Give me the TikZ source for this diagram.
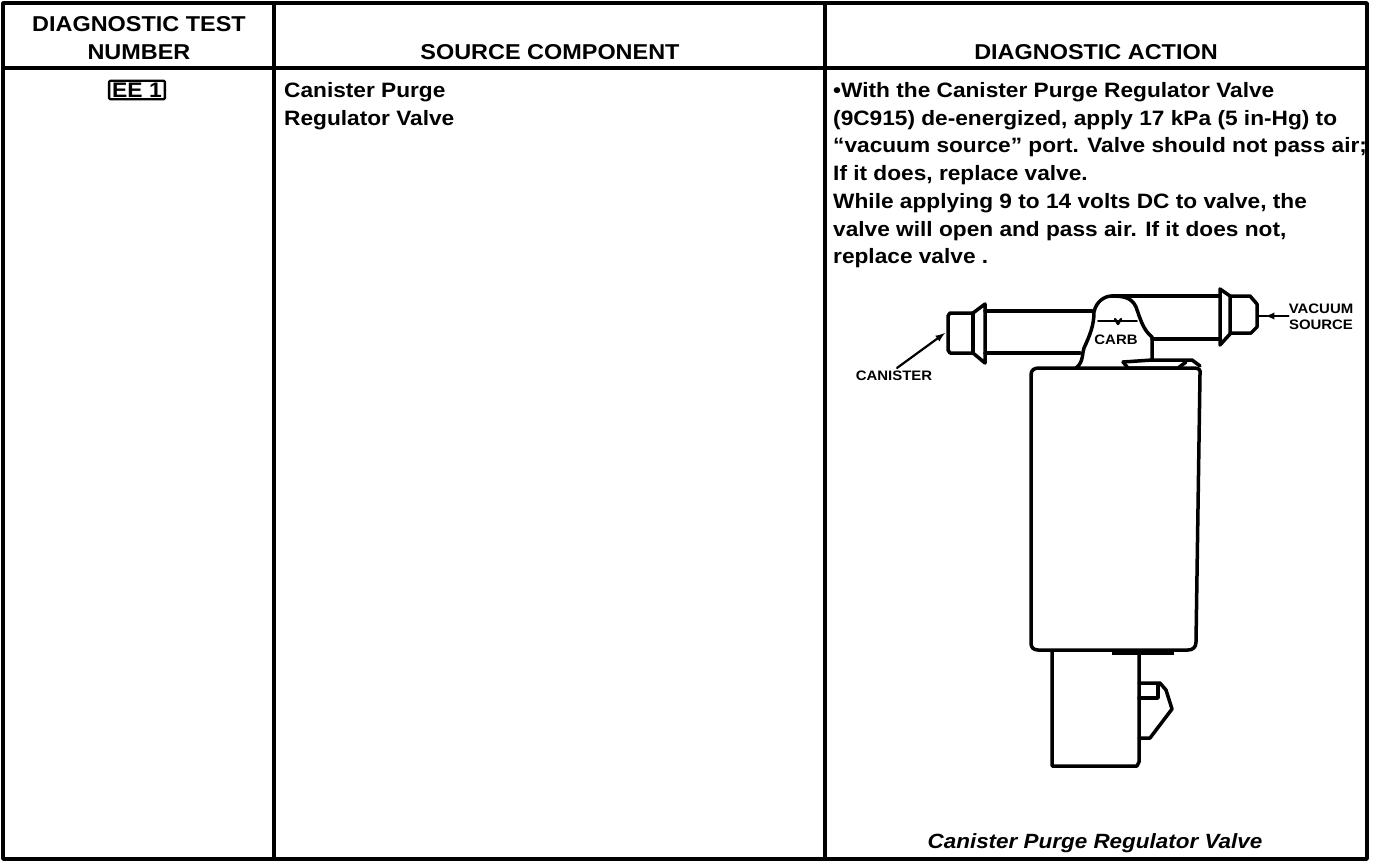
\documentclass[tikz,border=0pt]{standalone}
\usepackage{fontspec}
\setmainfont[FakeStretch=1.09]{Liberation Sans}
\usetikzlibrary{arrows,positioning}

\begin{document}
\begin{tikzpicture}[x=1pt,y=-1pt,line join=round,line cap=round]
  \tikzstyle{rule}=[line width=3.4pt,line cap=butt]
  \tikzstyle{outline}=[line width=3.5pt]
  \tikzstyle{pointer}=[line width=2.2pt,-latex]
  \tikzstyle{headcell}=[inner sep=0pt,align=center,font=\bfseries\fontsize{21.5}{28.5}\selectfont]
  \tikzstyle{bodytext}=[inner sep=0pt,align=left,anchor=north west,font=\bfseries\fontsize{20.8}{27.75}\selectfont]
  \tikzstyle{smalltag}=[inner sep=0pt,align=center,font=\bfseries\fontsize{13.7}{16}\selectfont]

  \useasboundingbox (0,0) rectangle (1376,862);

  % table
  \draw[rule] (3,3) rectangle (1367,859);
  \draw[rule] (274,3) -- (274,859);
  \draw[rule] (825,3) -- (825,859);
  \draw[rule] (3,68) -- (1367,68);

  \node[headcell] (testhead) at (139,38) {DIAGNOSTIC TEST\\NUMBER};
  \node[headcell] (sourcehead) at (550,52) {SOURCE COMPONENT};
  \node[headcell] (actionhead) at (1096,52) {DIAGNOSTIC ACTION};

  \node[draw,line width=2.4pt,rounded corners=1pt,inner xsep=3pt,inner ysep=2pt,
        font=\bfseries\fontsize{21}{21}\selectfont] (testnum) at (137,90) {EE 1};
  \node[bodytext] (source) at (284,82) {Canister Purge\\Regulator Valve};
  \node[bodytext] (action) at (833,82) {•With the Canister Purge Regulator Valve\\
    (9C915) de-energized, apply 17 kPa (5 in-Hg) to\\
    ``vacuum source'' port. Valve should not pass air;\\
    If it does, replace valve.\\
    While applying 9 to 14 volts DC to valve, the\\
    valve will open and pass air. If it does not,\\
    replace valve .};

  % left fitting and tube
  \draw[outline] (973,313) -- (950,313) -- (948,316) -- (948,350) -- (950,353) -- (973,353);
  \draw[outline] (973,313) -- (973,353);
  \draw[outline] (973,313) -- (985,304) -- (985,363) -- (973,353);
  \draw[outline] (985,311) -- (1092,311);
  \draw[outline] (985,353) -- (1080,353);

  % housing
  \draw[outline] (1076,368) .. controls (1084,362) and (1082,352) .. (1084,348)
    .. controls (1090,335) and (1094,325) .. (1094,312)
    .. controls (1096,302) and (1104,296) .. (1112,296)
    .. controls (1124,296) and (1132,298) .. (1136,307)
    .. controls (1140,318) and (1143,330) .. (1152,337) -- (1152,360);

  % right tube and fitting
  \draw[outline] (1112,296) -- (1220,296);
  \draw[outline] (1152,339) -- (1220,339);
  \draw[outline] (1220,289) -- (1230,296) -- (1230,334) -- (1220,345) -- cycle;
  \draw[outline] (1230,296) -- (1250,296) -- (1257,304) -- (1257,327) -- (1251,333) -- (1230,333);

  % flow mark
  \draw[line width=1.8pt] (1098,321) -- (1137,321);
  \draw[line width=2.4pt] (1115,319) -- (1118,324) -- (1121,319);
  \node[smalltag] (carb) at (1116,340) {CARB};

  % body
  \draw[outline] (1123,362) -- (1152,360) -- (1192,360) -- (1200,366);
  \draw[outline] (1123,362) -- (1128,368) -- (1178,368) -- (1186,362);
  \draw[outline] (1039,368) -- (1194,368) .. controls (1199,368) and (1201,370) .. (1200,374)
    -- (1196,642) .. controls (1196,647) and (1193,650) .. (1188,650)
    -- (1038,650) .. controls (1033,650) and (1031,647) .. (1031,643)
    -- (1031,375) .. controls (1031,370) and (1034,368) .. (1039,368);
  \draw[line width=5pt,line cap=butt] (1112,652) -- (1174,652);

  % connector
  \draw[outline] (1052,651) -- (1052,766) -- (1137,766) -- (1139,762) -- (1139,651);
  \draw[outline] (1139,683) -- (1160,683) -- (1166,690) -- (1172,709) -- (1150,738) -- (1139,738);
  \draw[outline] (1139,698) -- (1158,698) -- (1158,685);

  % callouts
  \coordinate (canisterport) at (945,333);
  \coordinate (vacuumport) at (1259,316);
  \node[smalltag] (canister) at (894,376) {CANISTER};
  \node[smalltag] (vacuum) at (1321,317) {VACUUM\\SOURCE};
  \draw[pointer] (canister.north) ++(3,-3) -- (canisterport);
  \draw[line width=2.2pt,latex-] (vacuumport) ++(6,0) -- (vacuum.west |- vacuumport);
  \draw[line width=2.2pt] (vacuumport) -- ++(8,0);

  \node[inner sep=0pt,font=\bfseries\itshape\fontsize{20.6}{24}\selectfont] (caption) at (1095,843)
    {Canister Purge Regulator Valve};
\end{tikzpicture}
\end{document}
